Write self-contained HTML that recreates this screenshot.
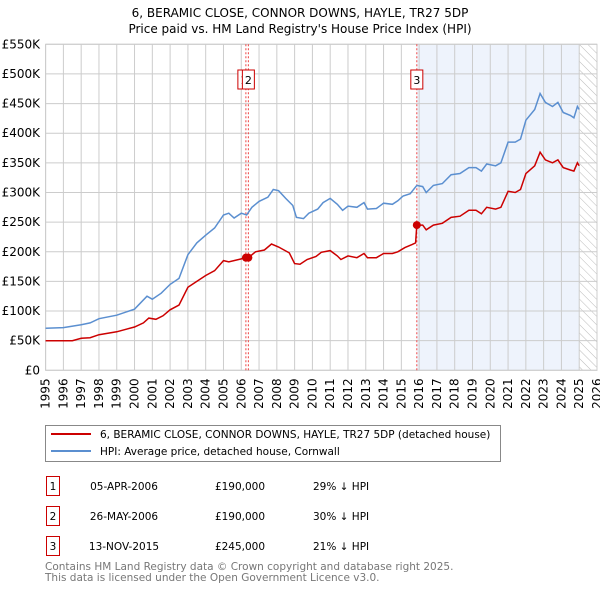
<!DOCTYPE html>
<html><head><meta charset="utf-8"><style>
body{margin:0;background:#fff;font-family:"Liberation Sans","DejaVu Sans",sans-serif;}
svg text{font-family:"DejaVu Sans","Liberation Sans",sans-serif;}
</style></head><body>
<svg id="c" width="600" height="590" viewBox="0 0 600 590">
<defs><pattern id="hatch" width="6" height="6" patternUnits="userSpaceOnUse" patternTransform="rotate(-45)"><line x1="0" y1="0" x2="0" y2="6" stroke="#bbb" stroke-width="1"/></pattern></defs>
<text x="300" y="17" text-anchor="middle" font-size="12" fill="#000">6, BERAMIC CLOSE, CONNOR DOWNS, HAYLE, TR27 5DP</text>
<text x="300" y="33" text-anchor="middle" font-size="12" fill="#000">Price paid vs. HM Land Registry's House Price Index (HPI)</text>
<g id="plot"></g>
<g>
<rect x="45.5" y="425.5" width="455" height="36" fill="#fff" stroke="#888"/>
<line x1="51" y1="434" x2="91" y2="434" stroke="#cc0000" stroke-width="2"/>
<text x="100" y="438" font-size="10.5">6, BERAMIC CLOSE, CONNOR DOWNS, HAYLE, TR27 5DP (detached house)</text>
<line x1="51" y1="451" x2="91" y2="451" stroke="#5b8fd0" stroke-width="2"/>
<text x="100" y="455" font-size="10.5">HPI: Average price, detached house, Cornwall</text>
</g>
<g font-size="10.5">
<rect x="46.5" y="476.5" width="13" height="19" fill="none" stroke="#cc0000"/><text x="53" y="490" text-anchor="middle">1</text>
<text x="124" y="490" text-anchor="middle">05-APR-2006</text><text x="240" y="490" text-anchor="middle">£190,000</text><text x="313" y="490">29% ↓ HPI</text>
<rect x="46.5" y="506.5" width="13" height="19" fill="none" stroke="#cc0000"/><text x="53" y="520" text-anchor="middle">2</text>
<text x="124" y="520" text-anchor="middle">26-MAY-2006</text><text x="240" y="520" text-anchor="middle">£190,000</text><text x="313" y="520">30% ↓ HPI</text>
<rect x="46.5" y="536.5" width="13" height="19" fill="none" stroke="#cc0000"/><text x="53" y="550" text-anchor="middle">3</text>
<text x="124" y="550" text-anchor="middle">13-NOV-2015</text><text x="240" y="550" text-anchor="middle">£245,000</text><text x="313" y="550">21% ↓ HPI</text>
</g>
<text x="45" y="570" font-size="10.5" fill="#777">Contains HM Land Registry data © Crown copyright and database right 2025.</text>
<text x="45" y="581" font-size="10.5" fill="#777">This data is licensed under the Open Government Licence v3.0.</text>
</svg>
<script>
const yTicks=[0,50,100,150,200,250,300,350,400,450,500,550];
const years=[1995,1996,1997,1998,1999,2000,2001,2002,2003,2004,2005,2006,2007,2008,2009,2010,2011,2012,2013,2014,2015,2016,2017,2018,2019,2020,2021,2022,2023,2024,2025,2026];
const hpiT=[1995,1996,1997,1997.5,1998,1999,2000,2000.7,2001,2001.5,2002,2002.5,2003,2003.5,2004,2004.5,2005,2005.3,2005.6,2006,2006.3,2006.6,2007,2007.5,2007.8,2008.1,2008.5,2008.9,2009.1,2009.5,2009.8,2010.3,2010.6,2011,2011.4,2011.7,2012,2012.5,2012.9,2013.1,2013.6,2014,2014.5,2014.8,2015.1,2015.5,2015.87,2016.2,2016.4,2016.8,2017.3,2017.8,2018.3,2018.8,2019.2,2019.5,2019.8,2020.3,2020.6,2021,2021.4,2021.7,2022,2022.5,2022.8,2023.1,2023.5,2023.8,2024.1,2024.5,2024.7,2024.9,2025.0];
const hpiV=[71,72,77,80,87,93,103,125,120,130,145,155,195,215,228,240,262,265,257,265,262,275,285,292,305,303,290,278,258,256,265,272,283,290,280,270,277,275,283,272,273,282,280,286,294,298,312,310,300,312,315,330,332,342,342,336,348,345,350,385,385,390,422,440,467,452,445,452,435,430,426,445,440];
const ppT=[1995,1996.5,1997,1997.5,1998,1999,2000,2000.5,2000.8,2001.2,2001.6,2002,2002.5,2003,2003.5,2004,2004.5,2005,2005.3,2006,2006.26,2006.4,2006.8,2007.3,2007.7,2008.1,2008.7,2009,2009.3,2009.7,2010.2,2010.5,2011,2011.4,2011.6,2012,2012.5,2012.9,2013.1,2013.6,2014,2014.5,2014.8,2015.2,2015.6,2015.8,2015.87,2016.2,2016.4,2016.8,2017.3,2017.8,2018.3,2018.8,2019.2,2019.5,2019.8,2020.3,2020.6,2021,2021.4,2021.7,2022,2022.5,2022.8,2023.1,2023.5,2023.8,2024.1,2024.5,2024.7,2024.9,2025.0];
const ppV=[50,50,54,55,60,65,73,80,88,86,92,102,110,140,150,160,168,185,183,188,190,190,200,203,213,208,198,180,179,187,192,199,202,193,187,193,190,197,190,190,197,197,200,207,212,215,245,245,237,245,248,258,260,270,270,264,275,272,275,302,300,305,332,345,368,355,350,355,342,338,336,350,345];
const saleT=[2006.26,2006.40,2015.87];
const saleV=[190,190,245];
const saleLbl=["1","2","3"];
const X0=45.6,X1=597,Y0=370.3,Y1=44.3;
const x=t=>X0+(t-1995)/(2026-1995)*(X1-X0);
const y=v=>Y0-v/550*(Y0-Y1);
const NS="http://www.w3.org/2000/svg";
const g=document.getElementById('plot');
function mk(tag,attrs,parent){const e=document.createElementNS(NS,tag);for(const k in attrs)e.setAttribute(k,attrs[k]);(parent||g).appendChild(e);return e;}
let e=mk('rect',{x:x(saleT[2]),y:Y1,width:x(2025)-x(saleT[2]),height:Y0-Y1,fill:'#eef3fc'});


e=mk('rect',{x:x(2025),y:Y1,width:X1-x(2025),height:Y0-Y1,fill:'url(#hatch)'});


years.forEach(t=>{const l=mk('line',{x1:x(t),x2:x(t),y1:Y1,y2:Y0,stroke:'#ccc','stroke-width':1});


const tx=mk('text',{x:0,y:0,'font-size':12,'text-anchor':'end',transform:`translate(${x(t)+4},${Y0+8}) rotate(-90)`});tx.textContent=t;

});
yTicks.forEach(v=>{const l=mk('line',{x1:X0,x2:X1,y1:y(v),y2:y(v),stroke:'#ccc','stroke-width':1});


const tx=mk('text',{x:40,y:y(v)+4,'font-size':12,'text-anchor':'end'});tx.textContent=v===0?'£0':'£'+v+'K';

});
mk('rect',{x:X0,y:Y1,width:X1-X0,height:Y0-Y1,fill:'none',stroke:'#ccc'});
saleT.forEach(t=>{const l=mk('line',{x1:x(t),x2:x(t),y1:Y1,y2:Y0,stroke:'#e44','stroke-width':1,'stroke-dasharray':'2,2'});

});
function pts(T,V){return T.map((t,i)=>x(t).toFixed(1)+','+y(V[i]).toFixed(1)).join(' ');}
e=mk('polyline',{points:pts(hpiT,hpiV),fill:'none',stroke:'#5b8fd0','stroke-width':1.5});


e=mk('polyline',{points:pts(ppT,ppV),fill:'none',stroke:'#cc0000','stroke-width':1.5});


saleT.forEach((t,i)=>{const c=mk('circle',{cx:x(t),cy:y(saleV[i]),r:4,fill:'#cc0000'});


const r=mk('rect',{x:x(t)-(i===0?7:5)-1,y:70,width:12,height:19,fill:'#fff',stroke:'#cc0000'});


const tx=mk('text',{x:x(t)-(i===0?7:5)+5,y:84,'font-size':11,'text-anchor':'middle'});tx.textContent=saleLbl[i];

});
</script>
</body></html>
